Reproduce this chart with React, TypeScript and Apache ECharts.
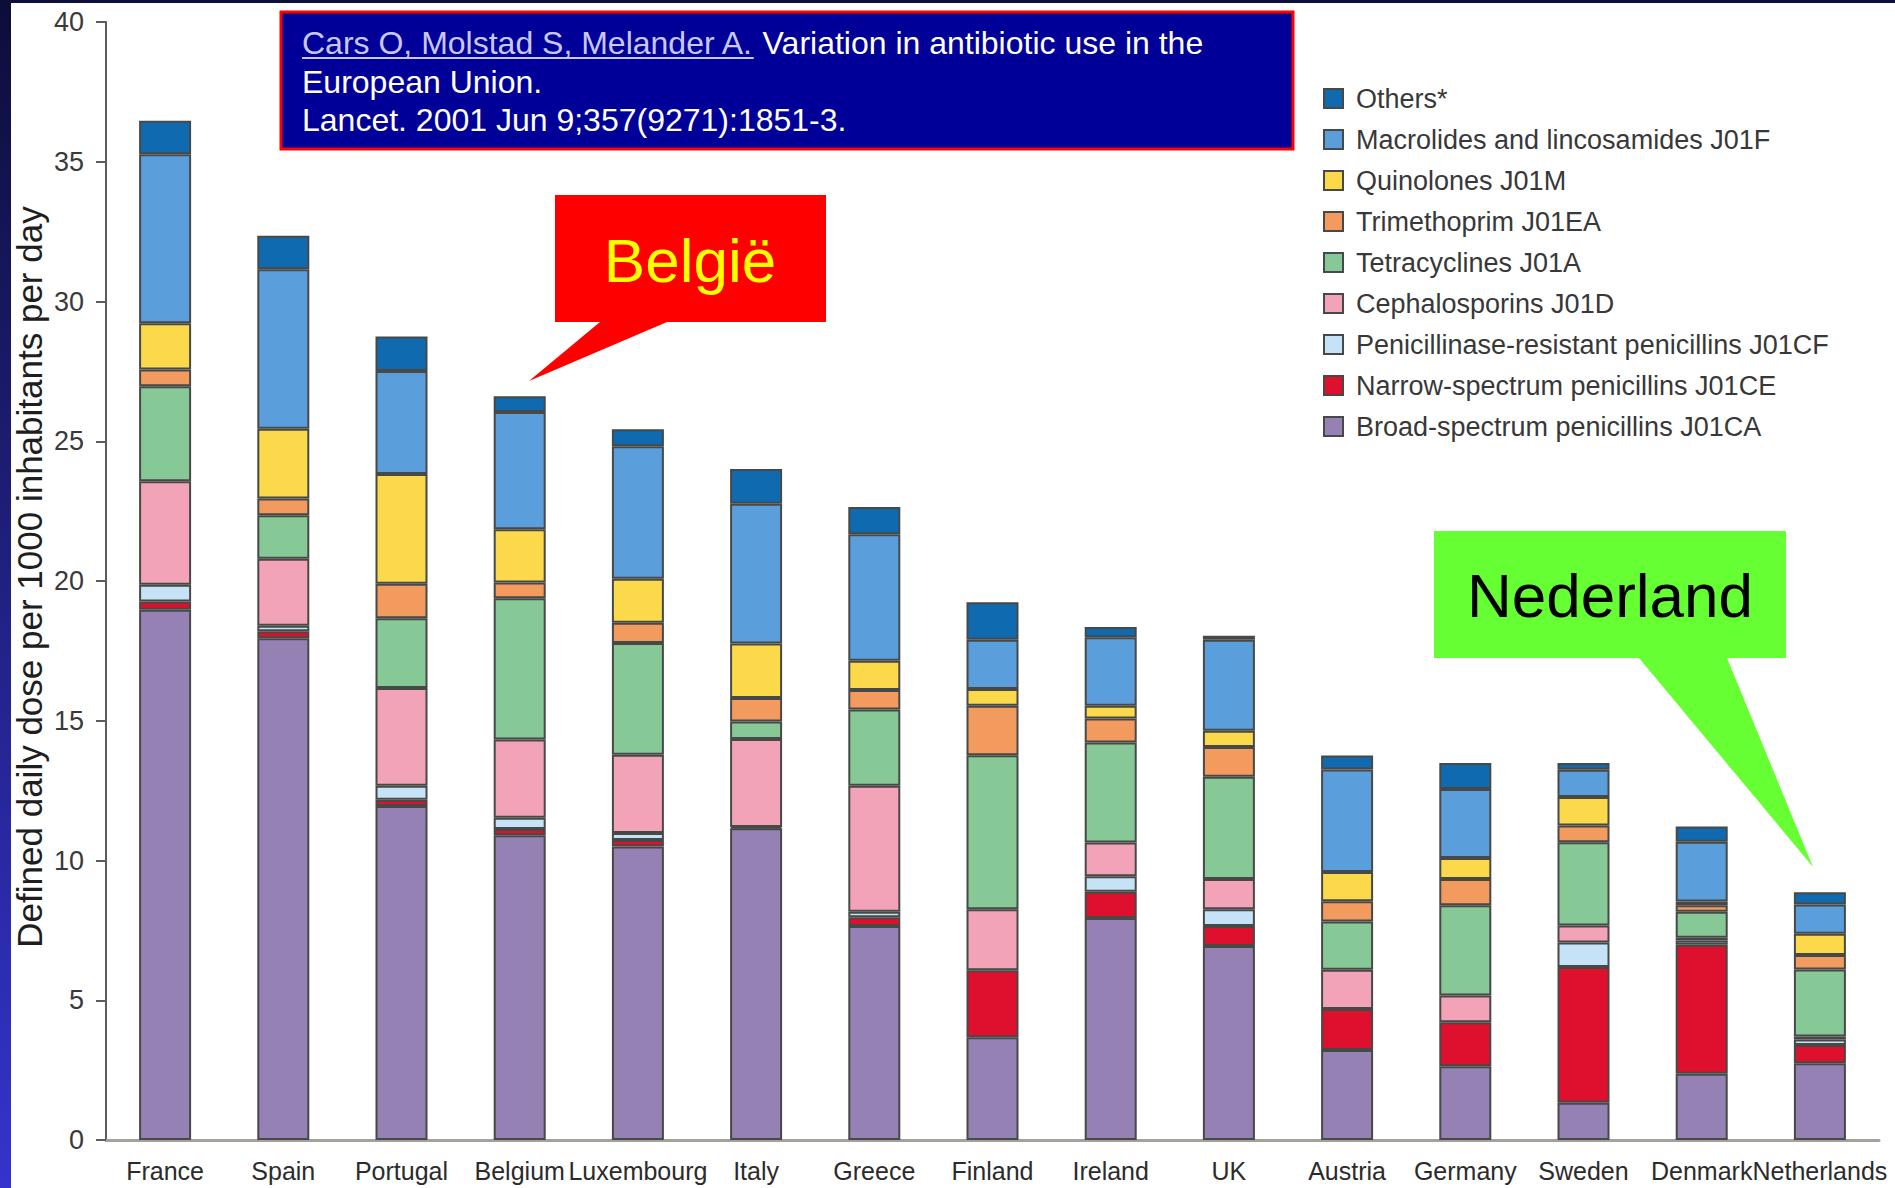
import React, { useEffect, useRef } from "react";
import * as echarts from "echarts";

const categories = ["France", "Spain", "Portugal", "Belgium", "Luxembourg", "Italy", "Greece", "Finland", "Ireland", "UK", "Austria", "Germany", "Sweden", "Denmark", "Netherlands"];

const broadSpectrum = [18.97, 17.95, 11.95, 10.9, 10.5, 11.15, 7.66, 3.68, 7.94, 6.94, 3.22, 2.64, 1.33, 2.37, 2.75];
const narrowSpectrum = [0.3, 0.25, 0.22, 0.23, 0.23, 0.05, 0.31, 2.39, 0.94, 0.72, 1.47, 1.57, 4.86, 4.62, 0.65];
const penicillinase = [0.6, 0.2, 0.5, 0.4, 0.25, 0, 0.2, 0, 0.56, 0.6, 0, 0, 0.88, 0.15, 0.2];
const cephalosporins = [3.7, 2.4, 3.5, 2.8, 2.8, 3.15, 4.5, 2.19, 1.2, 1.08, 1.4, 0.96, 0.6, 0.1, 0.1];
const tetracyclines = [3.4, 1.55, 2.5, 5.05, 4.0, 0.62, 2.73, 5.51, 3.58, 3.66, 1.73, 3.23, 2.98, 0.93, 2.4];
const trimethoprim = [0.6, 0.6, 1.23, 0.57, 0.73, 0.84, 0.7, 1.77, 0.86, 1.06, 0.72, 0.94, 0.6, 0.23, 0.52];
const quinolones = [1.65, 2.5, 3.93, 1.9, 1.57, 1.95, 1.05, 0.6, 0.46, 0.58, 1.05, 0.75, 1.02, 0.13, 0.76];
const macrolides = [6.05, 5.7, 3.68, 4.2, 4.74, 5.0, 4.52, 1.76, 2.45, 3.26, 3.67, 2.47, 0.98, 2.14, 1.05];
const others = [1.2, 1.2, 1.24, 0.56, 0.61, 1.25, 0.98, 1.34, 0.36, 0.14, 0.5, 0.93, 0.24, 0.55, 0.43];

const seriesNames = [
  "Broad-spectrum penicillins J01CA",
  "Narrow-spectrum penicillins J01CE",
  "Penicillinase-resistant penicillins J01CF",
  "Cephalosporins J01D",
  "Tetracyclines J01A",
  "Trimethoprim J01EA",
  "Quinolones J01M",
  "Macrolides and lincosamides J01F",
  "Others*",
];
const seriesValues = [broadSpectrum, narrowSpectrum, penicillinase, cephalosporins, tetracyclines, trimethoprim, quinolones, macrolides, others];
const seriesColors = ["#9581b4", "#df0f2e", "#c6e2f6", "#f3a3b8", "#86c996", "#f39a5e", "#fbd94a", "#5a9fdc", "#106ab0"];

const yTicks = { min: 0, max: 40, interval: 5 };
const yTitle = "Defined daily dose per 1000 inhabitants per day";
const citeAuthors = "Cars O, Molstad S, Melander A.";
const citeRest = " Variation in antibiotic use in the";
const citeLine2 = "European Union.";
const citeLine3 = "Lancet. 2001 Jun 9;357(9271):1851-3.";

const FONT = '"Liberation Sans", Arial, Helvetica, sans-serif';

function measure(text: string, size: number): number {
  try {
    const c = document.createElement("canvas");
    const ctx = c.getContext("2d");
    if (!ctx) return text.length * size * 0.5;
    ctx.font = `${size}px "Liberation Sans", Arial, sans-serif`;
    return ctx.measureText(text).width;
  } catch (e) {
    return text.length * size * 0.5;
  }
}

export default function App() {
  const ref = useRef<HTMLDivElement>(null);
  useEffect(() => {
    if (!ref.current) return;
    const chart = echarts.init(ref.current, undefined, { renderer: "svg" });
    const citeX = 302;
    const underlineW = measure(citeAuthors, 32);
    const option: any = {
      animation: false,
      backgroundColor: "#ffffff",
      textStyle: { fontFamily: FONT },
      grid: { left: 106, right: 16, top: 22, bottom: 48, containLabel: false, outerBoundsMode: "none" },
      legend: {
        orient: "vertical",
        left: 1323,
        top: 85,
        padding: 0,
        itemWidth: 19,
        itemHeight: 19,
        itemGap: 14,
        icon: "rect",
        selectedMode: false,
        data: [...seriesNames].reverse(),
        textStyle: { fontSize: 27, color: "#383838", fontFamily: FONT, lineHeight: 27, padding: [0, 0, 0, 8] },
      },
      xAxis: {
        type: "category",
        data: categories,
        axisLine: { lineStyle: { color: "#a3a19b", width: 3 } },
        axisTick: { show: false },
        axisLabel: { fontSize: 25, color: "#2b2b2b", margin: 18, fontFamily: FONT, interval: 0 },
      },
      yAxis: {
        type: "value",
        min: yTicks.min,
        max: yTicks.max,
        interval: yTicks.interval,
        splitLine: { show: false },
        axisLine: { show: true, lineStyle: { color: "#5a5e5c", width: 2 } },
        axisTick: { show: true, length: 10, lineStyle: { color: "#5a5e5c", width: 2 } },
        axisLabel: { fontSize: 27, color: "#3a3a3a", margin: 22, fontFamily: FONT },
      },
      series: seriesNames.map((name, i) => ({
        name,
        type: "bar",
        stack: "total",
        barWidth: 52,
        data: seriesValues[i].map((v) => (v === 0 ? "-" : v)),
        itemStyle: { color: seriesColors[i], borderColor: "#474947", borderWidth: 2 },
        emphasis: { disabled: true },
      })),
      graphic: [
        {
          type: "rect",
          silent: true,
          z: 100,
          shape: { x: 0, y: 0, width: 11, height: 1188 },
          style: {
            fill: new echarts.graphic.LinearGradient(0, 0, 0, 1, [
              { offset: 0, color: "#0d0d3a" },
              { offset: 1, color: "#3434cc" },
            ]),
          },
        },
        { type: "rect", silent: true, z: 100, shape: { x: 0, y: 0, width: 1895, height: 3 }, style: { fill: "#0e0e3a" } },
        {
          type: "rect",
          silent: true,
          z: 100,
          shape: { x: 281, y: 12, width: 1012, height: 137 },
          style: { fill: "#000099", stroke: "#ff0000", lineWidth: 3 },
        },
        {
          type: "text",
          silent: true,
          z: 101,
          x: citeX,
          y: 43,
          style: {
            text: `{a|${citeAuthors}}{b|${citeRest}}`,
            verticalAlign: "middle",
            align: "left",
            font: `32px ${FONT}`,
            rich: {
              a: { fontSize: 32, fill: "#c8c8ff", fontFamily: FONT },
              b: { fontSize: 32, fill: "#ffffff", fontFamily: FONT },
            },
          },
        },
        {
          type: "line",
          silent: true,
          z: 101,
          shape: { x1: citeX, y1: 58, x2: citeX + underlineW, y2: 58 },
          style: { stroke: "#c8c8ff", lineWidth: 2 },
        },
        {
          type: "text",
          silent: true,
          z: 101,
          x: citeX,
          y: 82,
          style: { text: citeLine2, fill: "#ffffff", fontSize: 32, fontFamily: FONT, verticalAlign: "middle", align: "left" },
        },
        {
          type: "text",
          silent: true,
          z: 101,
          x: citeX,
          y: 120,
          style: { text: citeLine3, fill: "#ffffff", fontSize: 32, fontFamily: FONT, verticalAlign: "middle", align: "left" },
        },
        {
          type: "polygon",
          silent: true,
          z: 100,
          shape: { points: [[555, 195], [826, 195], [826, 322], [667, 322], [529, 381], [600, 322], [555, 322]] },
          style: { fill: "#ff0000" },
        },
        {
          type: "text",
          silent: true,
          z: 101,
          x: 690,
          y: 260,
          style: { text: "België", fill: "#ffff00", fontSize: 62, fontFamily: FONT, align: "center", verticalAlign: "middle" },
        },
        {
          type: "polygon",
          silent: true,
          z: 100,
          shape: { points: [[1434, 531], [1786, 531], [1786, 658], [1727, 658], [1813, 867], [1639, 658], [1434, 658]] },
          style: { fill: "#66ff33" },
        },
        {
          type: "text",
          silent: true,
          z: 101,
          x: 1610,
          y: 595,
          style: { text: "Nederland", fill: "#000000", fontSize: 62, fontFamily: FONT, align: "center", verticalAlign: "middle" },
        },
        {
          type: "text",
          silent: true,
          z: 101,
          x: 29,
          y: 577,
          rotation: Math.PI / 2,
          style: { text: yTitle, fill: "#1e1e1e", fontSize: 35, fontFamily: FONT, align: "center", verticalAlign: "middle" },
        },
      ],
    };
    chart.setOption(option);
    return () => chart.dispose();
  }, []);
  return <div ref={ref} style={{ position: "absolute", left: 0, top: 0, width: 1895, height: 1188 }} />;
}
